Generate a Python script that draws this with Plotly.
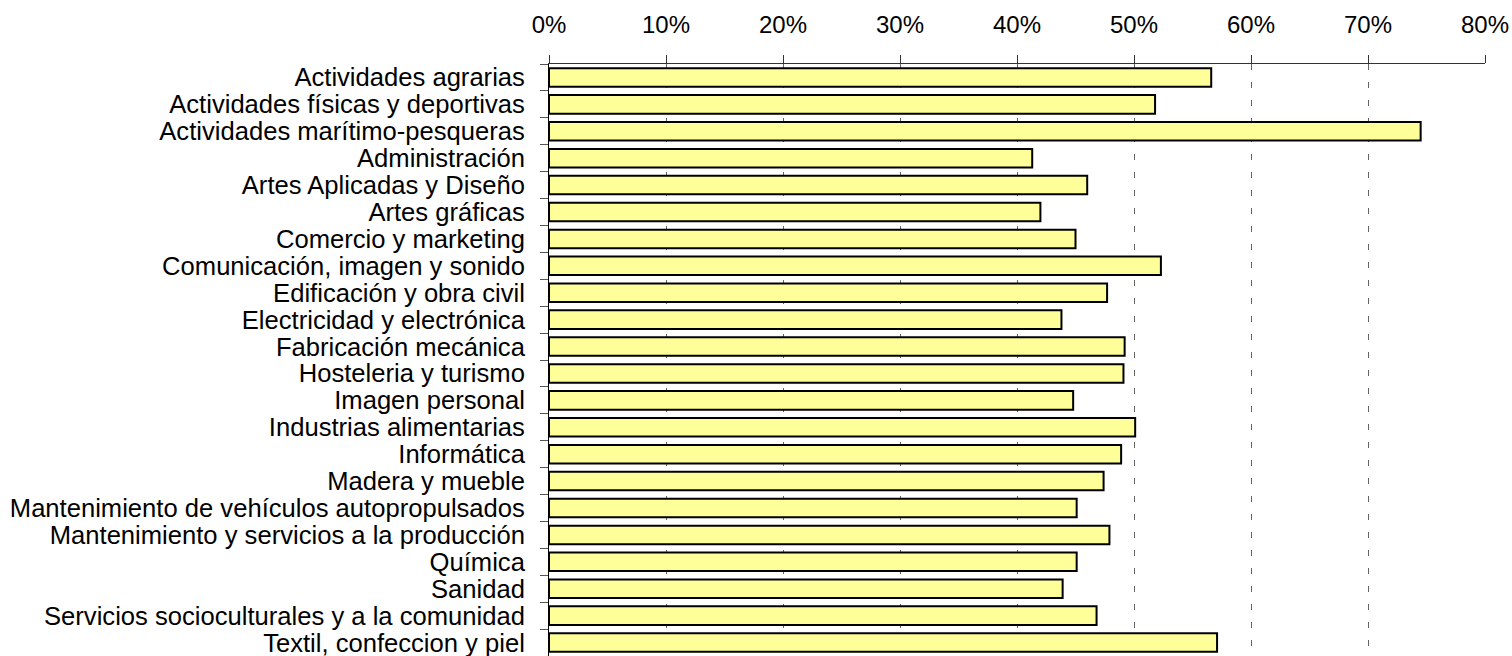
import plotly.graph_objects as go

categories = [
    "Actividades agrarias",
    "Actividades físicas y deportivas",
    "Actividades marítimo-pesqueras",
    "Administración",
    "Artes Aplicadas y Diseño",
    "Artes gráficas",
    "Comercio y marketing",
    "Comunicación, imagen y sonido",
    "Edificación y obra civil",
    "Electricidad y electrónica",
    "Fabricación mecánica",
    "Hosteleria y turismo",
    "Imagen personal",
    "Industrias alimentarias",
    "Informática",
    "Madera y mueble",
    "Mantenimiento de vehículos autopropulsados",
    "Mantenimiento y servicios a la producción",
    "Química",
    "Sanidad",
    "Servicios socioculturales y a la comunidad",
    "Textil, confeccion y piel",
]

values = [
    0.566, 0.518, 0.745, 0.413, 0.460, 0.420, 0.450, 0.523, 0.477, 0.438, 0.492,
    0.491, 0.448, 0.501, 0.489, 0.474, 0.451, 0.479, 0.451, 0.439, 0.468, 0.571,
]

x_ticks = [0, 0.1, 0.2, 0.3, 0.4, 0.5, 0.6, 0.7, 0.8]
x_tick_labels = ["0%", "10%", "20%", "30%", "40%", "50%", "60%", "70%", "80%"]

FONT = "Liberation Sans, Arial, sans-serif"

fig = go.Figure(
    go.Bar(
        x=values,
        y=categories,
        orientation="h",
        marker=dict(color="#FFFF99", line=dict(color="black", width=2)),
        hoverinfo="x+y",
    )
)

fig.update_layout(
    width=1512,
    height=656,
    margin=dict(l=549, r=27, t=64, b=0, autoexpand=False),
    paper_bgcolor="white",
    plot_bgcolor="white",
    bargap=0.31,
    showlegend=False,
    font=dict(family=FONT, size=24, color="black"),
)

fig.update_xaxes(
    side="top",
    range=[0, 0.8],
    tickmode="array",
    tickvals=x_ticks,
    ticktext=x_tick_labels,
    ticks="outside",
    ticklen=8,
    tickcolor="#333333",
    tickwidth=1,
    showline=True,
    linecolor="#333333",
    linewidth=1,
    showgrid=True,
    gridcolor="#666666",
    gridwidth=1,
    griddash="6px,12px",
    zeroline=False,
    automargin=False,
    ticklabelstandoff=12,
    tickfont=dict(family=FONT, size=24, color="black"),
)

fig.update_yaxes(
    categoryorder="array",
    categoryarray=categories,
    autorange="reversed",
    tickmode="linear",
    dtick=1,
    tickson="boundaries",
    ticks="outside",
    ticklen=8,
    tickcolor="#555555",
    showline=True,
    linecolor="black",
    linewidth=1,
    showgrid=False,
    zeroline=False,
    automargin=False,
    ticklabelstandoff=18,
    tickfont=dict(family=FONT, size=25.6, color="black"),
)

fig.write_html(
    "out.html",
    config={"displayModeBar": False},
    post_script="document.body.style.margin='0';document.body.style.overflow='hidden';",
)
